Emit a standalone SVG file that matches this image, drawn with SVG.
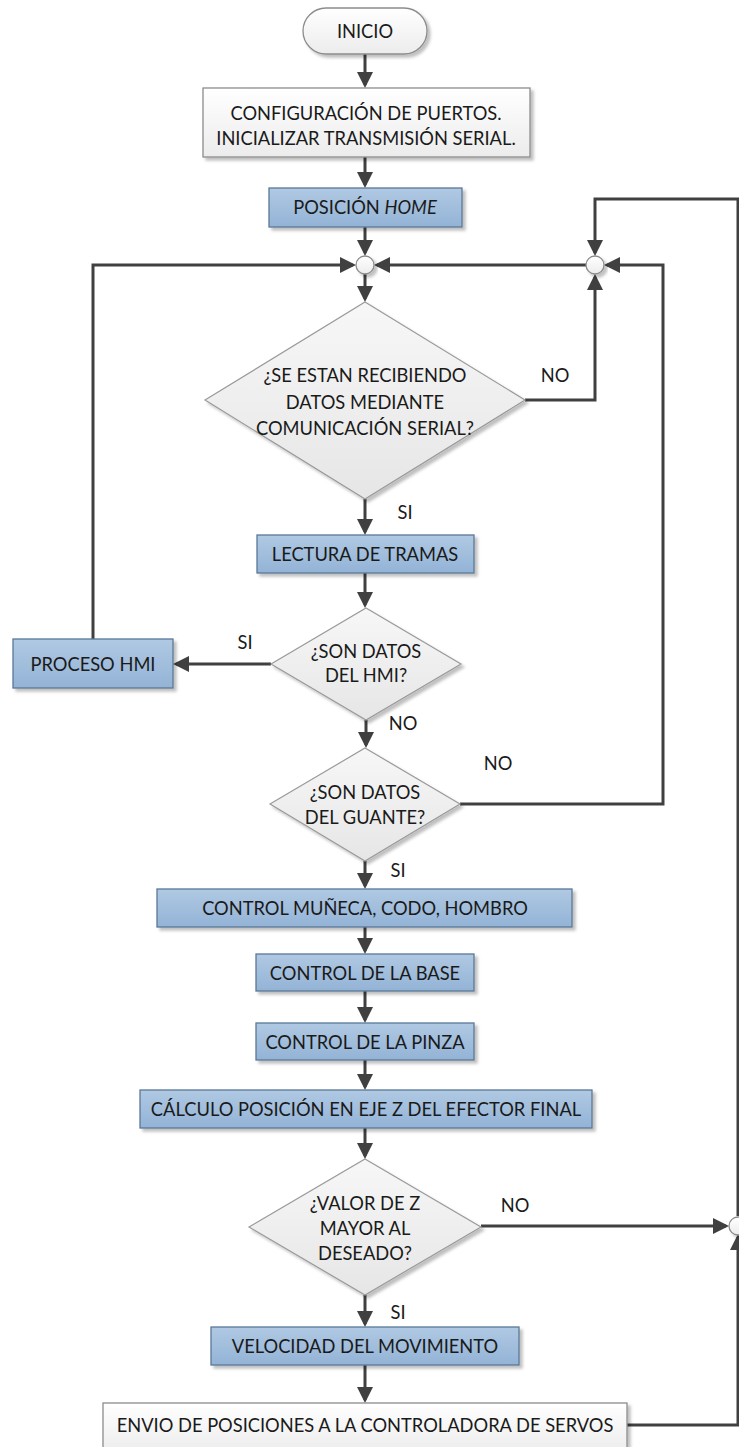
<svg xmlns="http://www.w3.org/2000/svg" width="739" height="1447" viewBox="0 0 739 1447">
<defs>
<linearGradient id="gBlue" x1="0" y1="0" x2="0" y2="1"><stop offset="0" stop-color="#b0c9e3"/><stop offset="1" stop-color="#93b3d6"/></linearGradient>
<linearGradient id="gWhite" x1="0" y1="0" x2="0" y2="1"><stop offset="0" stop-color="#ffffff"/><stop offset="1" stop-color="#ececec"/></linearGradient>
<linearGradient id="gGray" x1="0" y1="0" x2="0" y2="1"><stop offset="0" stop-color="#f7f7f7"/><stop offset="1" stop-color="#e6e6e6"/></linearGradient>
<filter id="sh" x="-10%" y="-20%" width="130%" height="150%"><feDropShadow dx="3" dy="3" stdDeviation="1.5" flood-color="#000" flood-opacity="0.25"/></filter>
<marker id="arr" viewBox="0 0 16 16" refX="13" refY="8" markerWidth="16" markerHeight="16" orient="auto" markerUnits="userSpaceOnUse"><path d="M0,0 L16,8 L0,16 Z" fill="#404040"/></marker>
<style>
.t{font-family:Lato,"Liberation Sans",sans-serif;font-size:18.3px;fill:#1a1a1a;text-anchor:middle}
.l{font-family:Lato,"Liberation Sans",sans-serif;font-size:18.3px;fill:#1a1a1a;text-anchor:middle}
.blue{fill:url(#gBlue);stroke:#5a7896;stroke-width:1.3;filter:url(#sh)}
.white{fill:url(#gWhite);stroke:#8c8c8c;stroke-width:1.3;filter:url(#sh)}
.dia{fill:url(#gGray);stroke:#9a9a9a;stroke-width:1.2;filter:url(#sh)}
.jn{fill:url(#gWhite);stroke:#8c8c8c;stroke-width:1.3;filter:url(#sh)}
.c{fill:none;stroke:#404040;stroke-width:3}
.a{marker-end:url(#arr)}
</style>
</defs>
<g id="connectors">
<path class="c a" d="M365,54 V85"/>
<path class="c a" d="M365,157 V185"/>
<path class="c a" d="M365,227 V253"/>
<path class="c a" d="M365,274 V299"/>
<path class="c a" d="M525,400 H595 V277"/>
<path class="c a" d="M586,265 H377"/>
<path class="c a" d="M365,499 V532"/>
<path class="c a" d="M365,573 V605"/>
<path class="c a" d="M271,664 H176"/>
<path class="c a" d="M93,639 V265 H353"/>
<path class="c a" d="M366,720 V745"/>
<path class="c a" d="M460,804 H663 V265 H607"/>
<path class="c a" d="M365,861 V886"/>
<path class="c a" d="M365,927 V951"/>
<path class="c a" d="M365,991 V1020"/>
<path class="c a" d="M365,1060 V1087"/>
<path class="c a" d="M365,1128 V1156"/>
<path class="c a" d="M481,1226 H726"/>
<path class="c a" d="M365,1295 V1324"/>
<path class="c a" d="M365,1365 V1400"/>
<path class="c a" d="M627,1425 H738 V1237"/>
<path class="c a" d="M738,1216 V199 H595 V253"/>
<text class="l" x="555" y="382">NO</text>
<text class="l" x="405" y="519">SI</text>
<text class="l" x="245" y="649">SI</text>
<text class="l" x="403" y="730">NO</text>
<text class="l" x="498" y="770">NO</text>
<text class="l" x="398" y="877">SI</text>
<text class="l" x="515" y="1212">NO</text>
<text class="l" x="398" y="1319">SI</text>
</g>
<g id="inicio"><rect class="white" x="303" y="8" width="124" height="46" rx="23"/><text class="t" x="365" y="38">INICIO</text></g>
<g id="config"><rect class="white" x="203" y="88" width="327" height="69"/><text class="t" x="366" y="120">CONFIGURACIÓN DE PUERTOS.</text><text class="t" x="366" y="145">INICIALIZAR TRANSMISIÓN SERIAL.</text></g>
<g id="home"><rect class="blue" x="269" y="188" width="193" height="39"/><text class="t" x="365" y="214">POSICIÓN <tspan font-style="italic">HOME</tspan></text></g>
<g id="j1"><circle class="jn" cx="365" cy="265" r="9"/></g>
<g id="j2"><circle class="jn" cx="595" cy="265" r="9"/></g>
<g id="j3"><circle class="jn" cx="738" cy="1226" r="9"/></g>
<g id="d1"><polygon class="dia" points="365,302 525,400 365,499 205,400"/><text class="t" x="365" y="382">¿SE ESTAN RECIBIENDO</text><text class="t" x="365" y="409">DATOS MEDIANTE</text><text class="t" x="365" y="435">COMUNICACIÓN SERIAL?</text></g>
<g id="lectura"><rect class="blue" x="257" y="535" width="217" height="38"/><text class="t" x="365" y="561">LECTURA DE TRAMAS</text></g>
<g id="d2"><polygon class="dia" points="366,608 461,664 366,720 271,664"/><text class="t" x="366" y="658">¿SON DATOS</text><text class="t" x="366" y="682">DEL HMI?</text></g>
<g id="hmi"><rect class="blue" x="13" y="639" width="160" height="49"/><text class="t" x="93" y="671">PROCESO HMI</text></g>
<g id="d3"><polygon class="dia" points="365,748 460,804 365,861 270,804"/><text class="t" x="365" y="799">¿SON DATOS</text><text class="t" x="365" y="824">DEL GUANTE?</text></g>
<g id="muneca"><rect class="blue" x="157" y="889" width="415" height="38"/><text class="t" x="365" y="915">CONTROL MUÑECA, CODO, HOMBRO</text></g>
<g id="base"><rect class="blue" x="256" y="954" width="218" height="37"/><text class="t" x="365" y="980">CONTROL DE LA BASE</text></g>
<g id="pinza"><rect class="blue" x="256" y="1023" width="218" height="37"/><text class="t" x="365" y="1049">CONTROL DE LA PINZA</text></g>
<g id="calculo"><rect class="blue" x="140" y="1090" width="452" height="38"/><text class="t" x="366" y="1116">CÁLCULO POSICIÓN EN EJE Z DEL EFECTOR FINAL</text></g>
<g id="d4"><polygon class="dia" points="365,1159 481,1227 365,1295 249,1227"/><text class="t" x="365" y="1210">¿VALOR DE Z</text><text class="t" x="365" y="1235">MAYOR AL</text><text class="t" x="365" y="1260">DESEADO?</text></g>
<g id="velocidad"><rect class="blue" x="211" y="1327" width="308" height="38"/><text class="t" x="365" y="1353">VELOCIDAD DEL MOVIMIENTO</text></g>
<g id="envio"><rect class="white" x="103" y="1403" width="524" height="50"/><text class="t" x="365" y="1432">ENVIO DE POSICIONES A LA CONTROLADORA DE SERVOS</text></g>
</svg>
